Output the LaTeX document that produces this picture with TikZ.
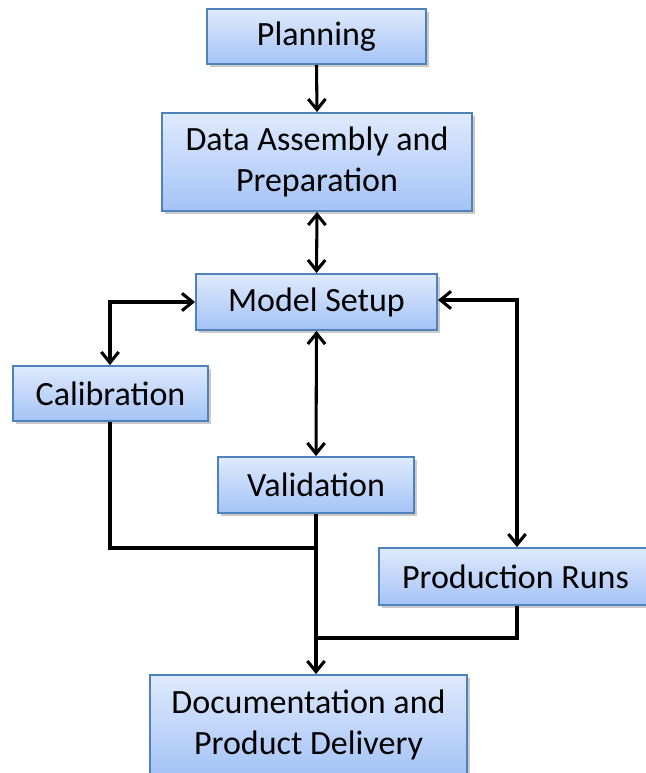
\documentclass[tikz,border=0pt]{standalone}
\usepackage{fontspec}
\setmainfont{Carlito}
\usetikzlibrary{arrows.meta,shadows}
\definecolor{boxtop}{HTML}{DFEAFD}
\definecolor{boxbot}{HTML}{A4C3F6}
\definecolor{boxborder}{HTML}{4F81BD}
\tikzset{
  box/.style={draw=boxborder, line width=1.4pt, top color=boxtop, bottom color=boxbot,
    inner sep=0pt, align=center, font=\fontsize{25.5}{31}\selectfont,
    drop shadow={opacity=0.35, shadow xshift=2.5pt, shadow yshift=-2.5pt, fill=black!60}},
  conn/.style={line width=2.3pt, black, line join=miter},
  tip/.style={-{Straight Barb[length=8pt,width=13pt,line width=2.3pt]}},
  bitip/.style={{Straight Barb[length=8pt,width=13pt,line width=2.3pt]}-{Straight Barb[length=8pt,width=13pt,line width=2.3pt]}}
}
\begin{document}
\begin{tikzpicture}[x=0.75pt,y=-0.75pt]
\useasboundingbox (0,0) rectangle (645,773);
\node[box, minimum width=219*0.75pt, minimum height=55*0.75pt] (plan) at (316.5,36.5) {Planning};
\node[box, minimum width=310*0.75pt, minimum height=98*0.75pt] (data) at (317,162) {Data Assembly and\\Preparation};
\node[box, minimum width=241*0.75pt, minimum height=56*0.75pt] (model) at (316.5,302) {Model Setup};
\node[box, minimum width=195*0.75pt, minimum height=55*0.75pt] (cal) at (110.5,393.5) {Calibration};
\node[box, minimum width=196*0.75pt, minimum height=56*0.75pt] (val) at (316,485) {Validation};
\node[box, minimum width=273*0.75pt, minimum height=57*0.75pt] (prod) at (515.5,576.5) {Production Runs};
\node[box, minimum width=317*0.75pt, minimum height=100*0.75pt] (doc) at (308.5,725) {Documentation and\\Product Delivery};
\coordinate (calc) at (110,302);
\coordinate (prodc) at (517,300);
\coordinate (calj) at (110,548);
\coordinate (valj) at (316,548);
\coordinate (prodj) at (517,638);
\coordinate (docj) at (316,638);
\draw[conn,tip] (plan.south) -- (data.north);
\draw[conn,bitip] (data.south) -- (model.north);
\draw[conn,bitip] (cal.north -| calc) -- (calc) -- (model.west);
\draw[conn,bitip] (model.south) -- (val.north);
\draw[conn,bitip] (model.east |- prodc) -- (prodc) -- (prod.north -| prodc);
\draw[conn] (cal.south -| calj) -- (calj) -- (valj);
\draw[conn] (prod.south -| prodj) -- (prodj) -- (docj);
\draw[conn,tip] (val.south) -- (val.south |- doc.north);
\end{tikzpicture}
\end{document}
